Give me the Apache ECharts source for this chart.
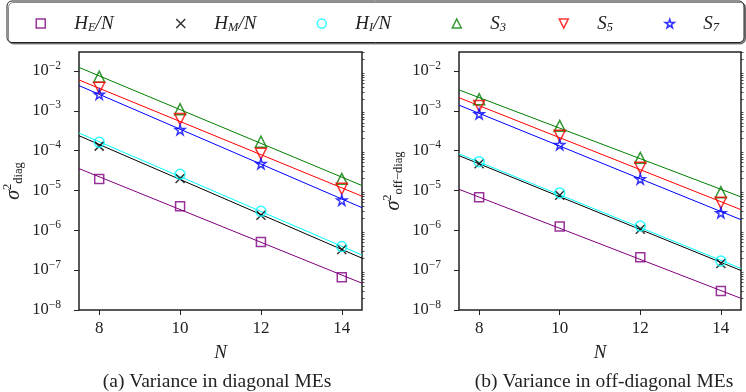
<!DOCTYPE html>
<html>
<head>
<meta charset="utf-8">
<script src="https://cdn.jsdelivr.net/npm/echarts@6/dist/echarts.min.js"></script>
<style>
  html, body { margin: 0; padding: 0; background: #fff; }
  #chart { width: 746px; height: 392px; }
</style>
</head>
<body>
<div id="chart"></div>
<script>
// N values of the markers, and the two ends of the fitted lines
var nValues = [8, 10, 12, 14];
var fitN = [7.5, 14.5];

var seriesNames = ['H_E/N', 'H_M/N', 'H_I/N', 'S_3', 'S_5', 'S_7'];

// (a) diagonal MEs
var diagHE = [1.95e-5, 4.0e-6, 5.1e-7, 6.6e-8];
var diagHM = [1.3e-4, 2.0e-5, 2.4e-6, 3.3e-7];
var diagHI = [1.62e-4, 2.55e-5, 3.0e-6, 3.9e-7];
var diagS3 = [7.2e-3, 1.1e-3, 1.68e-4, 1.96e-5];
var diagS5 = [3.8e-3, 6.2e-4, 8.4e-5, 1.1e-5];
var diagS7 = [2.6e-3, 3.35e-4, 4.7e-5, 5.7e-6];
var diagFitHE = [3.55e-5, 4.7e-8];
var diagFitHM = [2.37e-4, 2.0e-7];
var diagFitHI = [2.77e-4, 2.4e-7];
var diagFitS3 = [1.23e-2, 1.33e-5];
var diagFitS5 = [5.96e-3, 7.2e-6];
var diagFitS7 = [4.3e-3, 3.7e-6];

// (b) off-diagonal MEs
var offHE = [6.8e-6, 1.24e-6, 2.1e-7, 3.0e-8];
var offHM = [4.7e-5, 7.6e-6, 1.06e-6, 1.47e-7];
var offHI = [5.3e-5, 8.7e-6, 1.28e-6, 1.7e-7];
var offS3 = [1.96e-3, 4.2e-4, 6.6e-5, 9.1e-6];
var offS5 = [1.33e-3, 2.37e-4, 3.7e-5, 4.9e-6];
var offS7 = [8.4e-4, 1.41e-4, 1.95e-5, 2.75e-6];
var offFitHE = [1.07e-5, 1.96e-8];
var offFitHM = [7.5e-5, 9.8e-8];
var offFitHI = [8.3e-5, 1.1e-7];
var offFitS3 = [3.35e-3, 6.9e-6];
var offFitS5 = [2.14e-3, 3.3e-6];
var offFitS7 = [1.39e-3, 1.85e-6];

// axis ticks
var xTicks = [8, 10, 12, 14];
var yMajor = [1e-8, 1e-7, 1e-6, 1e-5, 1e-4, 1e-3, 1e-2];
var yMinor = [];
yMajor.forEach(function (d) {
    for (var m = 2; m <= 9; m++) {
        if (m * d <= 0.03) yMinor.push(m * d);
    }
});

var colors = ['#800080', '#000000', '#00ffff', '#008000', '#ff0000', '#0000ff'];
var starPath = 'path://M50,0L61,35L98,35L68,57L79,91L50,70L21,91L32,57L2,35L39,35Z';
var crossPath = 'path://M0,0L10,10M10,0L0,10';
var downTri = 'path://M0,0L10,0L5,10Z';
var symbols = ['rect', crossPath, 'circle', 'triangle', downTri, starPath];
var sizes = [9, 9, 10, 11, 11, 10];

var serif = 'Liberation Serif';

function build(gridIdx, marks, fits) {
    var out = [];
    fits.forEach(function (f, i) {
        out.push({
            name: 'fit' + gridIdx + i,
            type: 'line',
            xAxisIndex: gridIdx,
            yAxisIndex: gridIdx * 2,
            data: fitN.map(function (n, k) { return [n, f[k]]; }),
            showSymbol: false,
            silent: true,
            z: 2,
            lineStyle: {color: colors[i], width: 1}
        });
    });
    marks.forEach(function (m, i) {
        out.push({
            name: seriesNames[i],
            type: 'scatter',
            xAxisIndex: gridIdx,
            yAxisIndex: gridIdx * 2,
            data: nValues.map(function (n, k) { return [n, m[k]]; }),
            symbol: symbols[i],
            symbolSize: sizes[i],
            z: 3,
            itemStyle: {color: 'transparent', borderColor: colors[i], borderWidth: 1.5}
        });
    });
    return out;
}

var tickRich = {
    b: {fontFamily: serif, fontSize: 16.5, color: '#222'},
    e: {fontFamily: serif, fontSize: 11.5, color: '#222', padding: [0, 0, 11, 0]}
};

function yAxes(gridIdx, nameRich) {
    return [{
        type: 'log',
        gridIndex: gridIdx,
        min: 1e-8,
        max: 0.03,
        name: nameRich,
        nameLocation: 'middle',
        nameGap: 53,
        nameTextStyle: {
            rich: {
                s: {fontFamily: serif, fontStyle: 'italic', fontSize: 20, color: '#222'},
                p: {fontFamily: serif, fontSize: 12.5, color: '#222', padding: [0, 0, 12, 0]},
                d: {fontFamily: serif, fontSize: 12.5, color: '#222', padding: [10, 0, 0, 0]}
            }
        },
        axisLine: {show: false},
        splitLine: {show: false},
        axisTick: {show: true, inside: false, length: 5, customValues: yMajor,
            lineStyle: {color: '#222', width: 1}},
        axisLabel: {
            customValues: yMajor,
            margin: 18,
            formatter: function (v) {
                return '{b|10}{e|\u2212' + Math.abs(Math.round(Math.log10(v))) + '}';
            },
            rich: tickRich
        }
    }, {
        type: 'log',
        gridIndex: gridIdx,
        min: 1e-8,
        max: 0.03,
        axisLine: {show: false},
        splitLine: {show: false},
        axisLabel: {show: false},
        axisTick: {show: true, length: 2.5, customValues: yMinor,
            lineStyle: {color: '#222', width: 0.8}}
    }];
}

function xAxis(gridIdx) {
    return {
        type: 'value',
        gridIndex: gridIdx,
        min: 7.5,
        max: 14.5,
        name: 'N',
        nameLocation: 'middle',
        nameGap: 33,
        nameTextStyle: {fontFamily: serif, fontStyle: 'italic', fontSize: 19, color: '#222'},
        axisLine: {show: false},
        splitLine: {show: false},
        axisTick: {show: true, length: 5, customValues: xTicks, lineStyle: {color: '#222'}},
        axisLabel: {customValues: xTicks, margin: 10, fontFamily: serif, fontSize: 17, color: '#222'}
    };
}

var legendLeft = [35.5, 175.5, 316.5, 451.5, 558.5, 664.5];
var legendText = {
    'H_E/N': '{g|}{i|H}{u|E}{i|/N}',
    'H_M/N': '{g|}{i|H}{u|M}{i|/N}',
    'H_I/N': '{g|}{i|H}{u|I}{i|/N}',
    'S_3': '{g|}{i|S}{u|3}',
    'S_5': '{g|}{i|S}{u|5}',
    'S_7': '{g|}{i|S}{u|7}'
};

var legends = seriesNames.map(function (nm, i) {
    return {
        data: [{name: nm, icon: symbols[i]}],
        left: legendLeft[i],
        top: 14,
        padding: 0,
        itemWidth: 9,
        itemHeight: 9,
        selectedMode: false,
        z: 5,
        itemStyle: {borderWidth: 1.5},
        formatter: function (name) { return legendText[name]; },
        textStyle: {
            rich: {
                g: {width: 24},
                i: {fontFamily: serif, fontStyle: 'italic', fontSize: 19, color: '#222'},
                u: {fontFamily: serif, fontStyle: 'italic', fontSize: 12.5, color: '#222', padding: [8, 0, 0, 0]}
            }
        }
    };
});

var chart = echarts.init(document.getElementById('chart'));
chart.setOption({
    animation: false,
    backgroundColor: '#fff',
    legend: legends,
    grid: [
        {left: 78, right: 384, top: 52, bottom: 82, show: true, borderColor: '#222', borderWidth: 1.5},
        {left: 459, right: 5, top: 52, bottom: 82, show: true, borderColor: '#222', borderWidth: 1.5}
    ],
    xAxis: [xAxis(0), xAxis(1)],
    yAxis: yAxes(0, '{s|\u03c3}{p|2}{d|diag}').concat(yAxes(1, '{s|\u03c3}{p|2}{d|off\u2212diag}')),
    graphic: [
        {type: 'rect', z: 0, shape: {x: 7, y: 1, width: 737, height: 41.5, r: 5},
            style: {fill: '#fff', stroke: '#222', lineWidth: 1,
                shadowColor: 'rgba(0,0,0,0.45)', shadowOffsetX: 1.5, shadowOffsetY: 1.5}},
        {type: 'text', x: 217, y: 382, style: {text: '(a) Variance in diagonal MEs',
            font: '19.5px "Liberation Serif"', fill: '#222', textAlign: 'center', textVerticalAlign: 'middle'}},
        {type: 'text', x: 604, y: 382, style: {text: '(b) Variance in off-diagonal MEs',
            font: '19.5px "Liberation Serif"', fill: '#222', textAlign: 'center', textVerticalAlign: 'middle'}}
    ],
    series: build(0, [diagHE, diagHM, diagHI, diagS3, diagS5, diagS7],
                     [diagFitHE, diagFitHM, diagFitHI, diagFitS3, diagFitS5, diagFitS7])
        .concat(build(1, [offHE, offHM, offHI, offS3, offS5, offS7],
                         [offFitHE, offFitHM, offFitHI, offFitS3, offFitS5, offFitS7]))
});
</script>
</body>
</html>
